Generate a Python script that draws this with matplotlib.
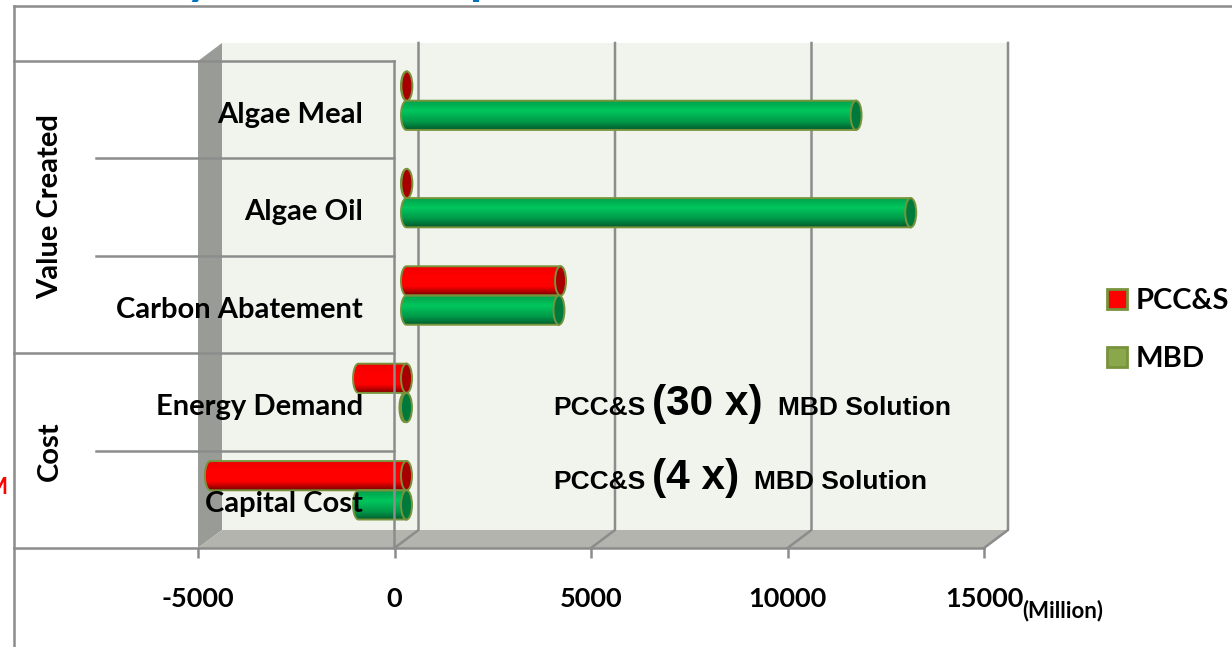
import numpy as np
import matplotlib
matplotlib.use("Agg")
import matplotlib.pyplot as plt
from matplotlib.patches import Ellipse, Patch, Polygon
from matplotlib.transforms import ScaledTranslation

W, H = 1232, 647

categories = ["Capital Cost", "Energy Demand", "Carbon Abatement", "Algae Oil", "Algae Meal"]
pcc_values = [-4990, -1220, 3920, 10, 10]
mbd_values = [-1220, -40, 3880, 12830, 11440]
x_ticks = [-5000, 0, 5000, 10000, 15000]
groups = ["Cost", "Value Created"]
legend_labels = ["PCC&S", "MBD"]

dark_edge = "#8c8c8c"
edge = "#77933c"

plt.rcParams["font.family"] = ["Lato", "DejaVu Sans"]
plt.rcParams["font.weight"] = "bold"

fig = plt.figure(figsize=(W / 100, H / 100), dpi=100)
ax = fig.add_axes([198 / W, 1 - 548 / H, (984 - 198) / W, (548 - 61) / H])
ax.set_xlim(-5000, 15000)
ax.set_ylim(0, 5)
ax.patch.set_visible(False)
for s in ax.spines.values():
    s.set_visible(False)

# 3d box depth, data units
dx = 24 / 786 * 20000
dy = 18 / 487 * 5

ax.add_patch(Polygon([[-5000 + dx, dy], [15000 + dx, dy], [15000 + dx, 5 + dy], [-5000 + dx, 5 + dy]],
                     fc="#f1f4ec", ec="none", clip_on=False, zorder=0.1))
ax.add_patch(Polygon([[-5000, 0], [-5000 + dx, dy], [-5000 + dx, 5 + dy], [-5000, 5]],
                     fc="#999b96", ec="none", clip_on=False, zorder=0.2))
ax.add_patch(Polygon([[-5000, 0], [-5000 + dx, dy], [15000 + dx, dy], [15000, 0]],
                     fc="#b2b4ad", ec="none", clip_on=False, zorder=0.2))

for t in x_ticks[1:]:
    ax.plot([t, t + dx, t + dx], [0, dy, 5 + dy], color=dark_edge, lw=1.8, clip_on=False, zorder=0.3)


def shade(stops, n=64):
    t = np.linspace(0, 1, n)
    out = np.zeros((n, 1, 3))
    for i in range(3):
        out[:, 0, i] = np.interp(t, [0, 0.35, 0.72, 1], [c[i] for c in stops])
    return out


reds = ((0.93, 0, 0), (1, 0, 0), (1, 0, 0), (0.50, 0, 0))
greens = ((0, 0.62, 0.30), (0, 0.78, 0.36), (0, 0.60, 0.29), (0, 0.36, 0.17))

bar_h = 0.30
cap = 5.5 / 786 * 20000


def cylinder(value, yc, colors, cap_color):
    lo = min(0, value) + dx / 2
    hi = max(0, value) + dx / 2
    yc = yc + dy / 2
    th = np.linspace(np.pi / 2, 3 * np.pi / 2, 40)
    left = np.column_stack([lo + cap * np.cos(th), yc + bar_h / 2 * np.sin(th)])
    right = np.array([[hi, yc - bar_h / 2], [hi, yc + bar_h / 2]])
    body = Polygon(np.vstack([left, right]), fc="none", ec=edge, lw=1.4, clip_on=False, zorder=1.2)
    ax.add_patch(body)
    im = ax.imshow(shade(colors), extent=[lo - cap, hi, yc - bar_h / 2, yc + bar_h / 2],
                   aspect="auto", zorder=1.1)
    im.set_clip_path(body)
    ax.add_patch(Ellipse((hi, yc), 2 * cap, bar_h, fc=cap_color, ec=edge, lw=1.4, clip_on=False, zorder=1.3))


y_pos = np.arange(len(categories)) + 0.5
for i in range(len(categories)):
    cylinder(pcc_values[i], y_pos[i] + bar_h / 2, reds, "#a80000")
    cylinder(mbd_values[i], y_pos[i] - bar_h / 2, greens, "#007a3a")

ax.set_xlim(-5000, 15000)
ax.set_ylim(0, 5)

ax.set_xticks(x_ticks)
ax.set_xticklabels([str(t) for t in x_ticks], fontsize=19.5)
ax.tick_params(axis="x", length=7, width=1.8, color=dark_edge, pad=21)
ax.set_yticks(y_pos)
ax.set_yticklabels(categories, fontsize=21)
ax.tick_params(axis="y", length=0, pad=0)
# labels sit left of the zero line, so move them by hand
down = ScaledTranslation(0, -2.5 / 100, fig.dpi_scale_trans)
for lab in ax.get_yticklabels():
    lab.set_transform(ax.get_yaxis_transform() + down)
    lab.set_x((363 - 198) / 786)
    lab.set_ha("right")
    lab.set_zorder(5)


def px(x, y):
    return x / W, 1 - y / H


# category frame, lines in figure pixels
frame = [
    ((14, 647), (14, 6)), ((14, 6), (W, 6)), ((14, 61), (394, 61)), ((14, 353), (394, 353)),
    ((14, 548), (984, 548)), ((96, 158), (394, 158)), ((96, 256), (394, 256)), ((96, 451), (394, 451)),
    ((394, 61), (394, 548)),
]
for a, b in frame:
    pa, pb = px(*a), px(*b)
    fig.add_artist(plt.Line2D([pa[0], pb[0]], [pa[1], pb[1]], color=dark_edge, lw=1.8, zorder=1.5))

fig.text(*px(50, 207), groups[1], rotation=90, ha="center", va="center", fontsize=21)
fig.text(*px(50, 451), groups[0], rotation=90, ha="center", va="center", fontsize=21)

fig.text(*px(1022, 617), "(Million)", fontsize=16, ha="left", va="baseline")
fig.text(*px(7, 494), "M", fontsize=16, color="#ff0000", ha="right", va="baseline")
# only the tails of the slide title show above the frame
fig.text(*px(186, -6), "y", fontsize=36, color="#0070c0", va="baseline", ha="left")
fig.text(*px(470, -6), "p", fontsize=36, color="#0070c0", va="baseline", ha="left")

arial = ["Liberation Sans", "DejaVu Sans"]
for yy, big, mx in [(415, "(30 x)", 778), (489, "(4 x)", 754)]:
    fig.text(*px(553, yy), "PCC&S", family=arial, fontsize=19, va="baseline")
    fig.text(*px(652, yy), big, family=arial, fontsize=30.5, va="baseline")
    fig.text(*px(mx, yy), "MBD Solution", family=arial, fontsize=19, va="baseline")

handles = [Patch(fc="#ff0000", ec=edge, lw=2), Patch(fc="#8ba74b", ec=edge, lw=2)]
fig.legend(handles, legend_labels, loc="center left", bbox_to_anchor=(1081 / W, 1 - 330 / H), frameon=False,
           fontsize=21, handlelength=0.68, handleheight=0.68, handletextpad=0.3, labelspacing=1.1)

fig.savefig("out.png", dpi=100)
